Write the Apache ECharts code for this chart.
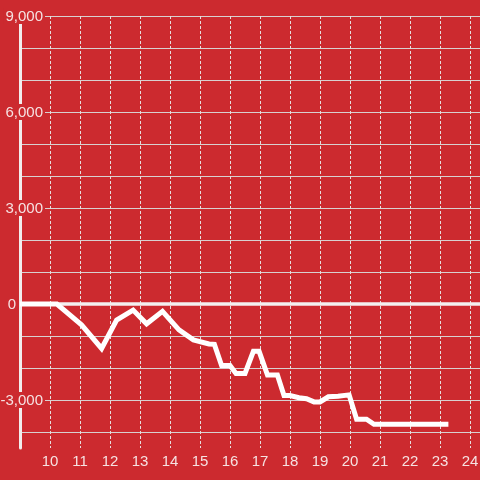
<!DOCTYPE html>
<html>
<head>
<meta charset="utf-8">
<script src="https://cdn.jsdelivr.net/npm/echarts@6/dist/echarts.min.js"></script>
<style>html,body{margin:0;padding:0;background:#cc2a2f;}#c{width:480px;height:480px;}</style>
</head>
<body>
<div id="c"></div>
<script>
var xValues = [9, 10.23, 11.05, 11.72, 12.22, 12.77, 13.22, 13.75, 14.3, 14.78, 15.3, 15.48, 15.72, 16.0, 16.2, 16.5, 16.78, 16.97, 17.25, 17.58, 17.8, 18.0, 18.3, 18.55, 18.8, 19.0, 19.28, 19.6, 19.97, 20.22, 20.55, 20.8, 23.28];
var yValues = [0, 0, -650, -1390, -500, -190, -620, -230, -810, -1120, -1250, -1260, -1920, -1920, -2170, -2170, -1480, -1480, -2220, -2220, -2860, -2860, -2930, -2960, -3060, -3060, -2900, -2880, -2840, -3600, -3600, -3760, -3760];
var xTickLabels = [10, 11, 12, 13, 14, 15, 16, 17, 18, 19, 20, 21, 22, 23, 24];
var yTickLabels = [-3000, 0, 3000, 6000, 9000];

var points = xValues.map(function (x, i) { return [x, yValues[i]]; });
var labelColor = '#f6e2e2';
var bg = '#cc2a2f';
var font = 'Liberation Sans, Arial, sans-serif';

var chart = echarts.init(document.getElementById('c'), null, {renderer: 'canvas'});
chart.setOption({
  backgroundColor: bg,
  animation: false,
  grid: {left: 20, right: 0, top: 16, bottom: 32, containLabel: false, outerBoundsMode: 'none'},
  xAxis: {
    type: 'value',
    min: 9,
    max: 9 + 460 / 30,
    interval: 1,
    axisLine: {show: false},
    axisTick: {show: false},
    axisLabel: {
      color: labelColor,
      fontSize: 15,
      fontFamily: font,
      margin: 6,
      formatter: function (v) {
        return xTickLabels.indexOf(Math.round(v * 1000) / 1000) >= 0 ? String(v) : '';
      }
    },
    splitLine: {
      show: true,
      showMinLine: false,
      showMaxLine: false,
      lineStyle: {color: '#e6dede', width: 1, type: [3, 2]}
    }
  },
  yAxis: {
    type: 'value',
    min: -4500,
    max: 9000,
    interval: 500,
    axisLine: {show: true, onZero: false, lineStyle: {color: '#f2eded', width: 3}},
    axisTick: {show: false},
    axisLabel: {
      color: labelColor,
      fontSize: 15,
      fontFamily: font,
      margin: -25,
      align: 'right',
      formatter: function (v) {
        if (yTickLabels.indexOf(v) < 0) return '';
        if (v === 0) return '{z|0}';
        return '{n|' + v.toLocaleString('en-US') + '}';
      },
      rich: {
        z: {color: labelColor, fontSize: 15, fontFamily: font, padding: [1, 29, 0, 0], lineHeight: 15},
        n: {color: labelColor, fontSize: 15, fontFamily: font, backgroundColor: bg, padding: [1, 2, 0, 2], lineHeight: 15}
      }
    },
    splitLine: {
      show: true,
      showMinLine: true,
      showMaxLine: true,
      lineStyle: {color: ['rgba(0,0,0,0)', '#d8d0d0'], width: 1}
    }
  },
  series: [{
    type: 'line',
    data: points,
    showSymbol: false,
    symbol: 'none',
    lineStyle: {color: '#ffffff', width: 5, join: 'miter'},
    markLine: {
      silent: true,
      symbol: 'none',
      label: {show: false},
      lineStyle: {color: '#f4efef', width: 3.5, type: 'solid'},
      data: [{yAxis: 0}]
    },
    z: 5
  }]
});
</script>
</body>
</html>
